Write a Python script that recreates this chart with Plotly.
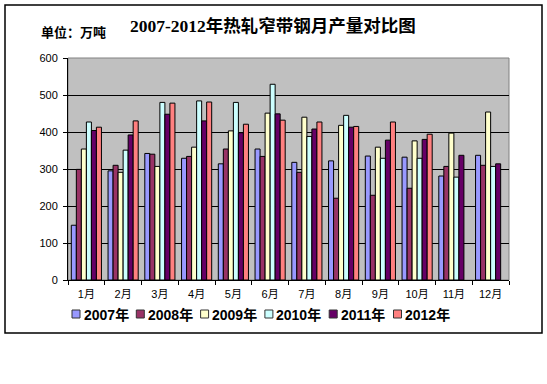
import plotly.graph_objects as go

months = ["1月", "2月", "3月", "4月", "5月", "6月", "7月", "8月", "9月", "10月", "11月", "12月"]
y2007 = [148, 295, 342, 329, 314, 354, 318, 322, 335, 332, 281, 337]
y2008 = [299, 310, 340, 334, 354, 334, 291, 221, 229, 248, 307, 310]
y2009 = [354, 291, 307, 359, 403, 451, 440, 418, 359, 376, 397, 454]
y2010 = [427, 351, 480, 484, 480, 529, 388, 445, 329, 329, 278, 307]
y2011 = [404, 392, 448, 430, 398, 449, 408, 413, 378, 380, 337, 314]
y2012 = [413, 430, 478, 481, 421, 432, 427, 415, 427, 394, None, None]

series = [
    ("2007年", y2007, "#9999FF"),
    ("2008年", y2008, "#993366"),
    ("2009年", y2009, "#FFFFCC"),
    ("2010年", y2010, "#CCFFFF"),
    ("2011年", y2011, "#660066"),
    ("2012年", y2012, "#FF8080"),
]

W, H = 547, 384
ML, MR, MT, MB = 68, 38, 58, 104
PW, PH = W - ML - MR, H - MT - MB


def px_x(x):
    return (x - ML) / PW


def px_y(y):
    return (H - MB - y) / PH


fig = go.Figure()
for name, vals, col in series:
    fig.add_trace(go.Bar(
        x=months, y=vals, name=name, showlegend=False,
        marker=dict(color=col, line=dict(color="black", width=1)),
    ))

base_font = "Liberation Sans, Noto Sans CJK SC, sans-serif"

shapes = [
    dict(type="rect", xref="paper", yref="paper", x0=0, x1=1, y0=0, y1=1,
         line=dict(color="#808080", width=1), layer="below"),
    dict(type="rect", xref="paper", yref="paper",
         x0=px_x(5), x1=px_x(542), y0=px_y(333), y1=px_y(5),
         line=dict(color="black", width=1.5), fillcolor="rgba(0,0,0,0)"),
]
annotations = [
    dict(text="2007-2012年热轧窄带钢月产量对比图", xref="paper", yref="paper",
         x=px_x(272.5), y=px_y(25.5), xanchor="center", yanchor="middle", showarrow=False,
         font=dict(family="Liberation Serif, Noto Sans CJK SC, serif", size=17.5,
                   color="black", weight="bold")),
    dict(text="单位：万吨", xref="paper", yref="paper",
         x=px_x(39), y=px_y(32), xanchor="left", yanchor="middle", showarrow=False,
         font=dict(family=base_font, size=13, color="black", weight="bold")),
]

# legend (drawn as swatches + labels below the axis)
LEG_X0, LEG_STEP, LEG_Y, SW = 72, 64.3, 314, 8
for i, (name, vals, col) in enumerate(series):
    lx = LEG_X0 + LEG_STEP * i
    shapes.append(dict(type="rect", xref="paper", yref="paper",
                       x0=px_x(lx), x1=px_x(lx + SW),
                       y0=px_y(LEG_Y + SW / 2), y1=px_y(LEG_Y - SW / 2),
                       line=dict(color="#333333", width=1), fillcolor=col))
    annotations.append(dict(text=name, xref="paper", yref="paper",
                            x=px_x(lx + SW + 1.5), y=px_y(LEG_Y + 0.5),
                            xanchor="left", yanchor="middle", showarrow=False,
                            font=dict(family=base_font, size=14, color="black",
                                      weight="bold")))

fig.update_layout(
    width=W, height=H,
    margin=dict(l=ML, r=MR, t=MT, b=MB),
    paper_bgcolor="white",
    plot_bgcolor="#C0C0C0",
    barmode="group",
    bargap=0.18,
    bargroupgap=0,
    font=dict(family=base_font, size=11, color="black"),
    showlegend=False,
    xaxis=dict(
        type="category",
        showline=True, linecolor="black", linewidth=1,
        ticks="outside", tickson="boundaries", ticklen=4, tickcolor="black",
        tickfont=dict(size=11),
        ticklabelstandoff=4,
        showgrid=False,
    ),
    yaxis=dict(
        range=[0, 600], dtick=100,
        showline=True, linecolor="black", linewidth=1,
        ticks="outside", ticklen=4, tickcolor="black",
        showgrid=True, gridcolor="black", gridwidth=1,
        zeroline=False,
        tickfont=dict(size=11),
        ticklabelstandoff=3,
    ),
    shapes=shapes,
    annotations=annotations,
)

fig.write_html("out.html", config={"displayModeBar": False},
               post_script="document.body.style.margin='0';")
